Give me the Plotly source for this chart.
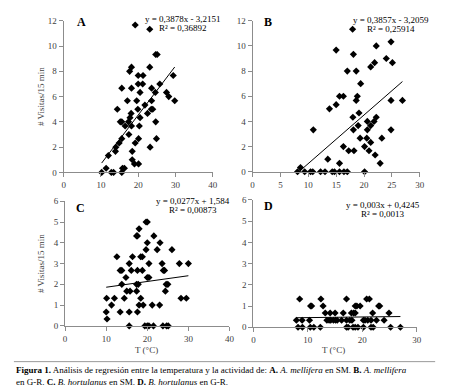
import plotly.graph_objects as go

PAGE_W, PAGE_H = 450, 390
OFF = 8  # default body margin of the html page
W, H = PAGE_W - OFF, PAGE_H - OFF

# ---------------- data ----------------
A_x = [19.2, 23.1, 24.7, 25.1, 18.2, 23.1, 17.7, 20.0, 21.3, 29.4, 20.0, 21.2, 25.8,
       15.6, 18.2, 23.6, 20.5, 24.6, 27.6, 28.2, 17.1, 19.6, 23.6, 29.8, 21.8,
       14.4, 19.9, 23.5, 23.9, 18.1, 22.5, 17.8, 20.5, 15.2, 15.6, 17.4, 24.7,
       16.5, 18.2, 20.3, 17.5, 15.6, 20.1, 24.9, 14.9, 19.2, 14.0, 23.2, 13.9,
       18.4, 12.0, 18.4, 19.0, 20.1, 11.4, 15.8, 16.3, 10.2, 12.8, 13.4, 15.6]
A_y = [11.67, 11.33, 9.33, 9.33, 8.33, 8.33, 8.0, 7.67, 7.67, 7.67, 7.0, 7.0, 7.0,
       6.67, 6.67, 6.67, 6.33, 6.33, 6.33, 6.0, 5.67, 5.67, 5.67, 5.67, 5.33,
       5.0, 5.0, 5.0, 5.0, 4.67, 4.67, 4.33, 4.33, 4.0, 4.0, 4.0, 4.0,
       3.67, 3.67, 3.67, 3.0, 2.67, 2.67, 2.67, 2.33, 2.33, 2.0, 2.0, 1.67,
       1.67, 1.33, 1.0, 0.67, 0.67, 0.33, 0.33, 0.33, 0.0, 0.0, 0.0, 0.0]

B_x = [17.95, 15.0, 18.1, 24.85, 22.2, 24.0, 21.9, 21.2, 25.1, 17.0, 18.6, 19.4,
       15.6, 16.3, 18.8, 15.0, 18.6, 24.85, 26.9, 13.8, 19.1, 18.0, 22.2, 20.6,
       21.8, 18.95, 21.2, 18.1, 20.6, 24.85, 10.9, 19.3, 20.5, 23.2, 21.2, 16.3,
       20.1, 17.25, 18.2, 20.9, 22.0, 13.5, 15.6, 22.9, 8.6,
       8.07, 9.35, 10.4, 10.8, 12.2, 13.0, 14.3, 14.7, 15.6, 16.4, 17.0, 20.1]
B_y = [11.33, 9.67, 9.33, 10.33, 10.0, 9.0, 8.67, 8.33, 8.67, 8.0, 8.0, 7.0,
       6.0, 6.0, 6.0, 5.33, 5.67, 5.67, 5.67, 5.0, 4.67, 4.33, 4.33, 4.0,
       4.0, 3.67, 3.67, 3.33, 3.33, 3.33, 3.33, 2.67, 2.67, 2.67, 2.33, 2.0,
       2.0, 1.67, 1.67, 1.67, 1.33, 1.0, 0.67, 0.67, 0.33,
       0, 0, 0, 0, 0, 0, 0, 0, 0, 0, 0, 0]

C_x = [19.7, 20.0, 18.0, 17.4, 17.6, 21.6, 20.0, 23.1, 19.7, 22.4, 26.0, 12.6,
       16.4, 18.4, 18.8, 15.6, 20.4, 23.6, 27.8, 30.0, 13.4, 13.8, 16.1, 17.6,
       18.8, 23.9, 24.2, 14.8, 20.0, 20.4, 13.8, 17.4, 17.8, 24.6, 25.0, 15.0,
       15.8, 17.4, 24.4, 10.1, 12.0, 14.4, 18.4, 28.2, 29.5, 11.3, 18.0, 19.0,
       21.2, 23.0, 10.0, 13.4, 15.6, 17.6, 10.2,
       15.6, 19.4, 20.0, 20.4, 21.5, 23.8, 24.7, 25.1]
C_y = [5.0, 5.0, 4.67, 4.33, 4.33, 4.33, 4.0, 4.0, 3.67, 3.67, 3.67, 3.33,
       3.33, 3.33, 3.33, 3.0, 3.0, 3.0, 3.0, 3.0, 2.67, 2.67, 2.67, 2.67,
       2.67, 2.67, 2.67, 2.33, 2.33, 2.33, 2.0, 2.0, 2.0, 2.0, 2.0, 1.67,
       1.67, 1.67, 1.67, 1.33, 1.33, 1.33, 1.33, 1.33, 1.33, 1.0, 1.0, 1.0,
       1.0, 1.0, 0.67, 0.67, 0.67, 0.67, 0.33,
       0, 0, 0, 0, 0, 0, 0, 0]

D_x = [8.5, 12.4, 17.1, 20.8, 21.3,
       10.5, 10.7, 12.8, 18.7, 19.0, 19.6, 23.0, 23.2,
       13.2, 14.1, 15.0, 16.5, 18.0, 18.4, 18.7, 21.9, 24.9,
       7.9, 8.95, 10.3, 13.5, 13.9, 14.2, 14.7, 15.1, 15.4, 16.2, 17.1, 17.7,
       18.1, 20.2, 20.5, 21.0, 21.6, 22.6, 24.0,
       8.2, 9.0, 10.45, 11.1, 12.3, 17.1, 17.4, 18.3, 18.7, 19.2, 20.2, 21.6,
       22.0, 25.2, 27.0]
D_y = [1.33] * 5 + [1.0] * 8 + [0.67] * 9 + [0.33] * 19 + [0.0] * 15

# trendline coefficients (slope, intercept) and labels
slopes = [0.3878, 0.3857, 0.0277, 0.003]
intercepts = [-3.2151, -3.2059, 1.584, 0.4245]
eq_text = ["y = 0,3878x - 3,2151", "y = 0,3857x - 3,2059",
           "y = 0,0277x + 1,584", "y = 0,003x + 0,4245"]
r2_text = ["R² = 0,36892", "R² = 0,25914", "R² = 0,00873", "R² = 0,0013"]
letters = ["A", "B", "C", "D"]

x_ranges = [[0, 40], [0, 30], [0, 40], [0, 30]]
x_dticks = [10, 5, 10, 10]
y_ranges = [[0, 12], [0, 12], [0, 6], [0, 6]]
y_dticks = [2, 2, 1, 1]

y_title = "# Visitas/15 min"
x_title = "T (°C)"

# ---------------- layout geometry (page pixels) ----------------
boxes = [  # x0, x1, ytop, ybottom
    (62.5, 214.0, 16.0, 171.7),
    (254.5, 424.3, 16.0, 171.0),
    (64.0, 231.0, 201.3, 329.3),
    (255.3, 421.3, 200.0, 330.7),
]

def px(x):
    return (x - OFF) / W

def py(y):
    return 1 - (y - OFF) / H

FONT = "Liberation Serif, Times New Roman, serif"
AX = "#8c8c8c"
TXT = "#404040"

fig = go.Figure()
datasets = [(A_x, A_y), (B_x, B_y), (C_x, C_y), (D_x, D_y)]

for i, (xs, ys) in enumerate(datasets):
    n = "" if i == 0 else str(i + 1)
    xa, ya = "x" + n, "y" + n
    fig.add_trace(go.Scatter(
        x=xs, y=ys, mode="markers", xaxis=xa, yaxis=ya,
        marker=dict(symbol="diamond", size=5.5, color="black"),
        cliponaxis=False, showlegend=False, hoverinfo="skip"))
    lo, hi = min(xs), max(xs)
    fig.add_trace(go.Scatter(
        x=[lo, hi], y=[slopes[i] * lo + intercepts[i], slopes[i] * hi + intercepts[i]],
        mode="lines", xaxis=xa, yaxis=ya, line=dict(color="black", width=1),
        cliponaxis=False, showlegend=False, hoverinfo="skip"))
    x0, x1, yt, yb = boxes[i]
    fig.update_layout(**{
        "xaxis" + n: dict(domain=[px(x0), px(x1)], range=x_ranges[i], dtick=x_dticks[i],
                          anchor=ya, showline=True, linecolor=AX, linewidth=1,
                          ticks="outside", ticklen=4, tickcolor=AX, showgrid=False,
                          zeroline=False, tickfont=dict(family=FONT, size=9, color=TXT)),
        "yaxis" + n: dict(domain=[py(yb), py(yt)], range=y_ranges[i], dtick=y_dticks[i],
                          anchor=xa, showline=True, linecolor=AX, linewidth=1,
                          ticks="outside", ticklen=4, tickcolor=AX, showgrid=False,
                          zeroline=False, tickfont=dict(family=FONT, size=9, color=TXT)),
    })

def note(x, y, text, size=9, color="black", **kw):
    d = dict(x=px(x), y=py(y), xref="paper", yref="paper", showarrow=False,
             xanchor="center", yanchor="middle", text=text,
             font=dict(family=FONT, size=size, color=color))
    d.update(kw)
    return d

ann = []
letter_pos = [(81, 17), (270, 17), (80, 208), (271, 206)]
eq_center = [(183.5, 14), (395.5, 15.5), (193.5, 201), (387.5, 205)]
for i in range(4):
    lx, ly = letter_pos[i]
    ann.append(note(lx, ly, "<b>" + letters[i] + "</b>", size=12))
    ex, ey = eq_center[i]
    ann.append(note(ex, ey, eq_text[i]))
    ann.append(note(ex, ey + 9, r2_text[i]))

# axis titles
for cy in [(16 + 171.7) / 2, (201.3 + 329.3) / 2]:
    ann.append(note(39, cy, y_title, color=TXT, textangle=-90))
for cx in [147, 337]:
    ann.append(note(cx, 354, x_title, color=TXT))

caption = ("<b>Figura 1.</b> Análisis de regresión entre la temperatura y la actividad de: "
           "<b>A.</b> <i>A. mellifera</i> en SM. <b>B.</b> <i>A. mellifera</i><br>"
           "en G-R. <b>C.</b> <i>B. hortulanus</i> en SM. <b>D.</b> <i>B. hortulanus</i> en G-R.")
ann.append(note(12, 367, caption, xanchor="left", yanchor="top", align="left"))

fig.update_layout(
    width=W, height=H, margin=dict(l=0, r=0, t=0, b=0),
    paper_bgcolor="white", plot_bgcolor="white",
    annotations=ann,
    shapes=[dict(type="line", xref="paper", yref="paper", x0=px(12), x1=px(440),
                 y0=py(366), y1=py(366), line=dict(color="#9a9a9a", width=1))],
)

fig.write_html("out.html")
